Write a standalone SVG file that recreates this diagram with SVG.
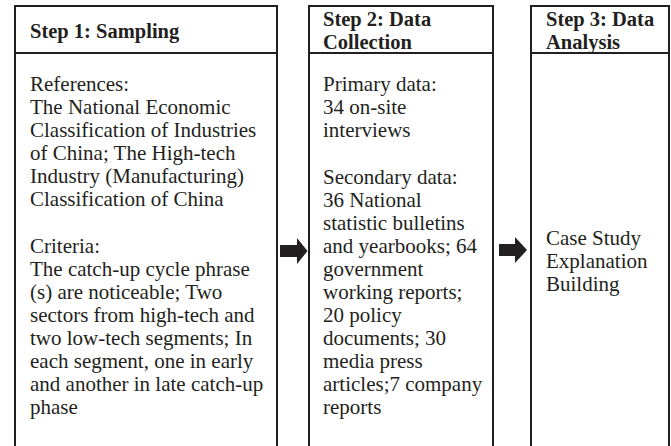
<svg xmlns="http://www.w3.org/2000/svg" width="671" height="446" viewBox="0 0 671 446">
  <style>
    .box { fill: #ffffff; stroke: #231f20; stroke-width: 2; }
    .sep { stroke: #231f20; stroke-width: 2; }
    .head { font-family: "Liberation Serif", "Times New Roman", serif; font-weight: bold; font-size: 20.5px; fill: #231f20; }
    .body { font-family: "Liberation Serif", "Times New Roman", serif; font-size: 21px; fill: #231f20; }
    .arrow { fill: #231f20; }
  </style>

  <rect width="671" height="446" fill="#ffffff"/>

  <!-- Step 1 -->
  <g id="step1">
    <rect class="box" x="15" y="6" width="262" height="450"/>
    <line class="sep" x1="15" y1="53" x2="277" y2="53"/>
    <text class="head" x="30" y="38">Step 1: Sampling</text>
    <text class="body">
      <tspan x="30" y="91">References:</tspan>
      <tspan x="30" y="114">The National Economic</tspan>
      <tspan x="30" y="137">Classification of Industries</tspan>
      <tspan x="30" y="160">of China; The High-tech</tspan>
      <tspan x="30" y="183">Industry (Manufacturing)</tspan>
      <tspan x="30" y="206">Classification of China</tspan>
      <tspan x="30" y="253">Criteria:</tspan>
      <tspan x="30" y="276">The catch-up cycle phrase</tspan>
      <tspan x="30" y="299">(s) are noticeable; Two</tspan>
      <tspan x="30" y="322">sectors from high-tech and</tspan>
      <tspan x="30" y="345">two low-tech segments; In</tspan>
      <tspan x="30" y="368">each segment, one in early</tspan>
      <tspan x="30" y="391">and another in late catch-up</tspan>
      <tspan x="30" y="414">phase</tspan>
    </text>
  </g>

  <!-- Step 2 -->
  <g id="step2">
    <rect class="box" x="309" y="6" width="184" height="450"/>
    <line class="sep" x1="309" y1="53" x2="493" y2="53"/>
    <text class="head">
      <tspan x="323" y="26">Step 2: Data</tspan>
      <tspan x="323" y="49">Collection</tspan>
    </text>
    <text class="body">
      <tspan x="323" y="91">Primary data:</tspan>
      <tspan x="323" y="114">34 on-site</tspan>
      <tspan x="323" y="137">interviews</tspan>
      <tspan x="323" y="184">Secondary data:</tspan>
      <tspan x="323" y="207">36 National</tspan>
      <tspan x="323" y="230">statistic bulletins</tspan>
      <tspan x="323" y="253">and yearbooks; 64</tspan>
      <tspan x="323" y="276">government</tspan>
      <tspan x="323" y="299">working reports;</tspan>
      <tspan x="323" y="322">20 policy</tspan>
      <tspan x="323" y="345">documents; 30</tspan>
      <tspan x="323" y="368">media press</tspan>
      <tspan x="323" y="391">articles;7 company</tspan>
      <tspan x="323" y="414">reports</tspan>
    </text>
  </g>

  <!-- Step 3 -->
  <g id="step3">
    <rect class="box" x="531" y="6" width="138" height="450"/>
    <line class="sep" x1="531" y1="53" x2="669" y2="53"/>
    <text class="head">
      <tspan x="546" y="26">Step 3: Data</tspan>
      <tspan x="546" y="49">Analysis</tspan>
    </text>
    <text class="body">
      <tspan x="546" y="245">Case Study</tspan>
      <tspan x="546" y="268">Explanation</tspan>
      <tspan x="546" y="291">Building</tspan>
    </text>
  </g>

  <!-- block arrows between steps -->
  <g id="connectors">
    <path class="arrow" d="M280,245 H297 V238 L307.5,251 L297,264 V257 H280 Z"/>
    <path class="arrow" d="M499,244 H515 V237 L527,250 L515,263 V256 H499 Z"/>
  </g>
</svg>
